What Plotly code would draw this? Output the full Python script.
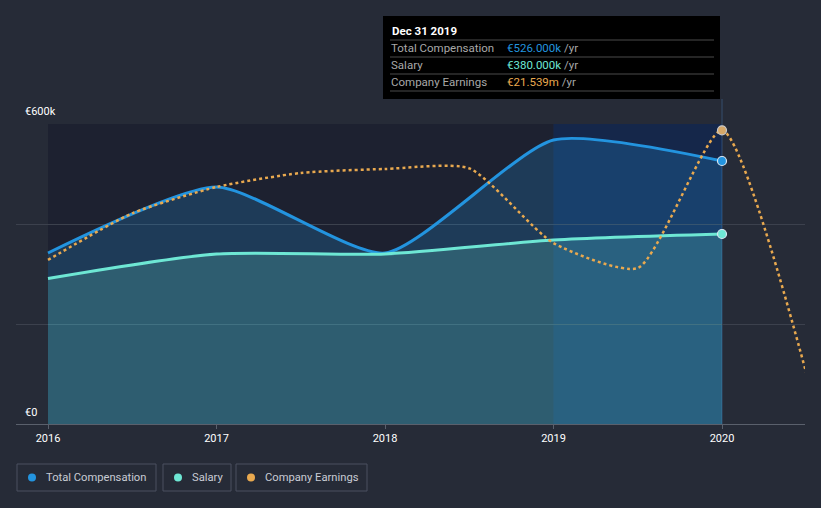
import plotly.graph_objects as go

# ---------------- data ----------------
comp_years = [2016.0, 2017.0, 2018.0, 2019.0, 2020.0]
total_comp = [342000, 474000, 342000, 568000, 526000]
salary = [291000, 340000, 340000, 368000, 380000]

earn_years = [2016.0, 2016.5, 2017.0, 2017.5, 2018.0, 2018.5, 2019.0, 2019.5, 2020.0, 2020.5]
earnings_m = [12.03, 15.45, 17.38, 18.41, 18.70, 18.75, 13.27, 11.44, 21.539, 3.74]

x_ticks = [2016, 2017, 2018, 2019, 2020]
x_tick_labels = ["2016", "2017", "2018", "2019", "2020"]

# ---------------- style ----------------
W, H = 821, 508
L, R, T, B = 16, 805, 124, 424
PAGE = "#262b37"
BLUE = "#2394df"
MINT = "#6ee7d4"
ORANGE = "#e9a94f"
FONT = "Roboto"

X0 = 2016 - (48 - L) / 168.5
X1 = 2020 + (R - 722) / 168.5


def px(x):
    return (x - L) / (R - L)


def py(y):
    return (B - y) / (B - T)


fig = go.Figure()

fig.add_trace(go.Scatter(
    x=comp_years, y=total_comp, mode="lines", line=dict(color=BLUE, width=3, shape="spline", smoothing=0.6),
    fill="tozeroy", fillcolor="rgba(35,148,223,0.23)", hoverinfo="skip", showlegend=False))
fig.add_trace(go.Scatter(
    x=comp_years, y=salary, mode="lines", line=dict(color=MINT, width=3, shape="spline", smoothing=0.7),
    fill="tozeroy", fillcolor="rgba(110,231,212,0.2)", hoverinfo="skip", showlegend=False))
fig.add_trace(go.Scatter(
    x=earn_years, y=earnings_m, mode="lines", yaxis="y2",
    line=dict(color=ORANGE, width=2.5, dash="dot", shape="spline", smoothing=0.6),
    hoverinfo="skip", showlegend=False))

# end markers
fig.add_trace(go.Scatter(x=[comp_years[-1]], y=[total_comp[-1]], mode="markers",
                         marker=dict(color=BLUE, size=9, line=dict(color="#d8e6f2", width=1.2)),
                         hoverinfo="skip", showlegend=False, cliponaxis=False))
fig.add_trace(go.Scatter(x=[comp_years[-1]], y=[salary[-1]], mode="markers",
                         marker=dict(color=MINT, size=9, line=dict(color="#d8e6f2", width=1.2)),
                         hoverinfo="skip", showlegend=False, cliponaxis=False))
fig.add_trace(go.Scatter(x=[earn_years[-2]], y=[earnings_m[-2]], mode="markers", yaxis="y2",
                         marker=dict(color="#d6a868", size=9, line=dict(color="#c8c8c8", width=1.2)),
                         hoverinfo="skip", showlegend=False, cliponaxis=False))

shapes = [
    dict(type="rect", xref="x", yref="paper", x0=2016, x1=2019, y0=0, y1=1,
         fillcolor="#1d2130", line_width=0, layer="below"),
    dict(type="rect", xref="x", yref="paper", x0=2019, x1=2020, y0=0, y1=1,
         fillcolor="#15274a", line_width=0, layer="below"),
    dict(type="line", xref="x", yref="paper", x0=2020, x1=2020, y0=0, y1=py(99),
         line=dict(color="rgba(70,120,180,0.45)", width=1), layer="below"),
]

# tooltip box
tx0, tx1, ty0, ty1 = 383, 720, 16, 99
shapes.append(dict(type="rect", xref="paper", yref="paper", x0=px(tx0), x1=px(tx1), y0=py(ty1), y1=py(ty0),
                   fillcolor="#000000", line_width=0))
for sy in [40, 57, 74, 91]:
    shapes.append(dict(type="line", xref="paper", yref="paper", x0=px(390), x1=px(714), y0=py(sy), y1=py(sy),
                       line=dict(color="#4a4a4a", width=1)))

annotations = [
    dict(xref="paper", yref="paper", x=px(390), y=py(31), text="<b>Dec 31 2019</b>", showarrow=False,
         xanchor="left", yanchor="middle", font=dict(family=FONT, size=11.5, color="#ffffff")),
]
rows = [("Total Compensation", "€526.000k", BLUE, 48),
        ("Salary", "€380.000k", MINT, 65),
        ("Company Earnings", "€21.539m", ORANGE, 82)]
for lab, val, col, yy in rows:
    annotations.append(dict(xref="paper", yref="paper", x=px(389), y=py(yy), text=lab, showarrow=False,
                            xanchor="left", yanchor="middle", font=dict(family=FONT, size=11.5, color="#a8a8a8")))
    annotations.append(dict(xref="paper", yref="paper", x=px(505), y=py(yy),
                            text=f"<span style='color:{col}'>{val}</span> /yr", showarrow=False,
                            xanchor="left", yanchor="middle", font=dict(family=FONT, size=11.5, color="#a8a8a8")))

# y labels
annotations.append(dict(xref="paper", yref="paper", x=px(23), y=py(112), text="€600k", showarrow=False,
                        xanchor="left", yanchor="middle", font=dict(family=FONT, size=11, color="#ffffff")))
annotations.append(dict(xref="paper", yref="paper", x=px(23), y=py(412), text="€0", showarrow=False,
                        xanchor="left", yanchor="middle", font=dict(family=FONT, size=11, color="#ffffff")))

# legend
legend_items = [("Total Compensation", BLUE, 17, 156), ("Salary", MINT, 163, 231), ("Company Earnings", ORANGE, 236, 367)]
for name, col, lx0, lx1 in legend_items:
    shapes.append(dict(type="rect", xref="paper", yref="paper", x0=px(lx0), x1=px(lx1), y0=py(491), y1=py(464),
                       fillcolor="rgba(0,0,0,0)", line=dict(color="#4b5161", width=1)))
    shapes.append(dict(type="circle", xref="paper", yref="paper", x0=px(lx0 + 11), x1=px(lx0 + 19),
                       y0=py(481.5), y1=py(473.5), fillcolor=col, line_width=0))
    annotations.append(dict(xref="paper", yref="paper", x=px(lx0 + 27), y=py(477.5), text=name, showarrow=False,
                            xanchor="left", yanchor="middle", font=dict(family=FONT, size=11.2, color="#c8ccd4")))

fig.update_layout(
    width=W, height=H,
    margin=dict(l=L, r=W - R, t=T, b=H - B, pad=0),
    paper_bgcolor=PAGE, plot_bgcolor=PAGE,
    showlegend=False,
    xaxis=dict(range=[X0, X1], tickvals=x_ticks, ticktext=x_tick_labels, showgrid=False, zeroline=False,
               showline=True, linecolor="#5a606c", linewidth=1, ticks="outside", ticklen=4, tickcolor="#5a606c",
               tickfont=dict(family=FONT, size=11, color="#ffffff"), fixedrange=True),
    yaxis=dict(range=[0, 600000], tickvals=[0, 200000, 400000, 600000], showticklabels=False,
               showgrid=True, gridcolor="#3c414d", gridwidth=1, zeroline=False, fixedrange=True),
    yaxis2=dict(range=[0, 22], overlaying="y", showgrid=False, showticklabels=False, zeroline=False, visible=False),
    shapes=shapes,
    annotations=annotations,
)

fig.write_html("out.html", config={"displayModeBar": False},
               post_script="document.body.style.margin='0';document.body.style.background='#262b37';")
